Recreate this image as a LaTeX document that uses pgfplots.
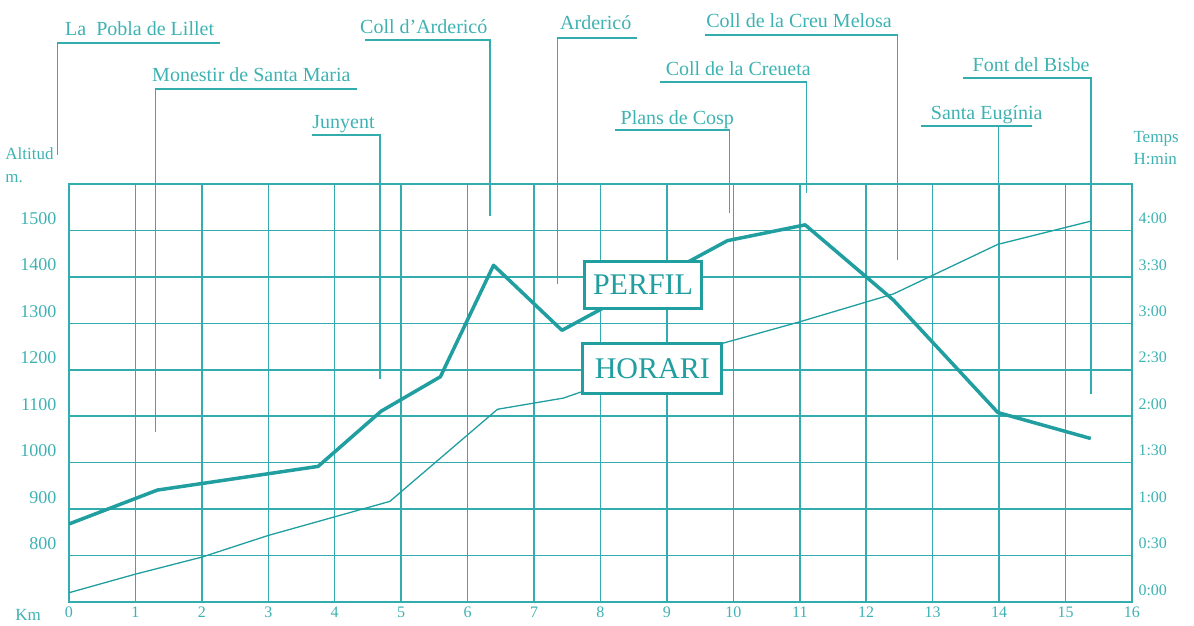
\documentclass[border=0pt]{standalone}
\usepackage{pgfplots}
\pgfplotsset{compat=1.18}
\usepackage{fontspec}
\setmainfont{Liberation Serif}
\definecolor{gridc}{RGB}{50,172,172}
\definecolor{linec}{RGB}{32,158,160}
\definecolor{textc}{RGB}{62,178,178}

\begin{document}
\begin{tikzpicture}
\useasboundingbox (-69pt,-23pt) rectangle (1125pt,602pt);
% altitud (perfil)
\begin{axis}[
  at={(0pt,0pt)}, anchor=south west,
  scale only axis, width=1063pt, height=418pt,
  xmin=0, xmax=16, ymin=700, ymax=1600,
  xtick={0,1,...,16}, ytick={800,900,...,1500},
  grid=major,
  major grid style={gridc, line width=1.5pt},
  axis line style={gridc, line width=1.8pt},
  major tick length=0pt,
  /pgf/number format/assume math mode=true,
  /pgf/number format/set thousands separator={},
  tick label style={font=\fontsize{16}{18}\selectfont, text=textc},
  yticklabel style={yshift=12pt, xshift=-9pt,
    font=\fontsize{18}{20}\selectfont},
  xticklabel style={yshift=-1pt},
  clip=false,
]
\addplot[linec, line width=3.5pt, line join=round] coordinates {
  (0,868) (1.33,941) (3.75,992) (4.7,1111) (5.59,1185) (6.39,1425)
  (7.42,1285) (9.91,1478) (11.08,1512) (12.41,1350) (13.98,1108) (15.38,1052)
};

% indicadors dels llocs
\begin{scope}[gridc, line width=1.5pt]
\draw (axis cs:2.27,1904) -- (axis cs:-0.17,1904) -- (axis cs:-0.17,1663);
\draw (axis cs:4.34,1805) -- (axis cs:1.30,1805) -- (axis cs:1.30,1066);
\draw (axis cs:3.66,1706) -- (axis cs:4.68,1706) -- (axis cs:4.68,1180);
\draw (axis cs:4.46,1910) -- (axis cs:6.34,1910) -- (axis cs:6.34,1532);
\draw (axis cs:8.55,1914) -- (axis cs:7.35,1914) -- (axis cs:7.35,1384);
\draw (axis cs:8.22,1716) -- (axis cs:9.94,1716) -- (axis cs:9.94,1538);
\draw (axis cs:8.90,1820) -- (axis cs:11.10,1820) -- (axis cs:11.10,1580);
\draw (axis cs:9.58,1921) -- (axis cs:12.47,1921) -- (axis cs:12.47,1437);
\draw (axis cs:12.82,1725) -- (axis cs:14.50,1725);
\draw (axis cs:13.99,1725) -- (axis cs:13.99,1188);
\draw (axis cs:13.46,1828) -- (axis cs:15.38,1828) -- (axis cs:15.38,1147);
\end{scope}

\begin{scope}[every node/.style={anchor=base west, inner sep=0pt, text=textc,
    font=\fontsize{20}{24}\selectfont}]
\node at (axis cs:-0.06,1919) {La\ \ Pobla de Lillet};
\node at (axis cs:1.25,1820) {Monestir de Santa Maria};
\node at (axis cs:3.66,1719) {Junyent};
\node at (axis cs:4.38,1925) {Coll d’Ardericó};
\node at (axis cs:7.39,1932) {Ardericó};
\node at (axis cs:9.59,1936) {Coll de la Creu Melosa};
\node at (axis cs:8.98,1833) {Coll de la Creueta};
\node at (axis cs:8.30,1729) {Plans de Cosp};
\node at (axis cs:12.97,1738) {Santa Eugínia};
\node at (axis cs:13.60,1843) {Font del Bisbe};
\end{scope}

\begin{scope}[every node/.style={anchor=base west, inner sep=0pt, text=textc,
    font=\fontsize{17}{20}\selectfont}]
\node at (axis cs:-0.96,1652) {Altitud};
\node at (axis cs:-0.96,1604) {m.};
\node at (axis cs:-0.81,661) {Km};
\node at (axis cs:16.02,1690) {Temps};
\node at (axis cs:16.02,1641) {H:min};
\end{scope}
\end{axis}

% temps (horari)
\begin{axis}[
  at={(0pt,0pt)}, anchor=south west,
  scale only axis, width=1063pt, height=418pt,
  xmin=0, xmax=16, ymin=0, ymax=270,
  axis x line=none, axis y line*=right,
  y axis line style={draw=none},
  ytick={0,30,...,240},
  yticklabels={0:00,0:30,1:00,1:30,2:00,2:30,3:00,3:30,4:00},
  major tick length=0pt,
  yticklabel style={yshift=12pt, xshift=3pt,
    font=\fontsize{16}{18}\selectfont, text=textc},
  clip=false,
]
\addplot[linec, line width=1.3pt, line join=round] coordinates {
  (0,6) (1,18) (2,29) (3,43) (4.83,65) (6.45,124.5) (7.44,131.7)
  (9.83,167) (11.0,181) (12.41,199) (13.98,231) (15.38,246)
};
\node[draw=linec, line width=3pt, fill=white, minimum width=117pt,
  minimum height=47pt, inner sep=0pt, text=linec,
  font=\fontsize{30}{32}\selectfont] at (axis cs:8.64,204.9) {PERFIL};
\node[draw=linec, line width=3pt, fill=white, minimum width=139pt,
  minimum height=50pt, inner sep=0pt, text=linec,
  font=\fontsize{30}{32}\selectfont] at (axis cs:8.78,150.6) {HORARI};
\end{axis}
\end{tikzpicture}
\end{document}
